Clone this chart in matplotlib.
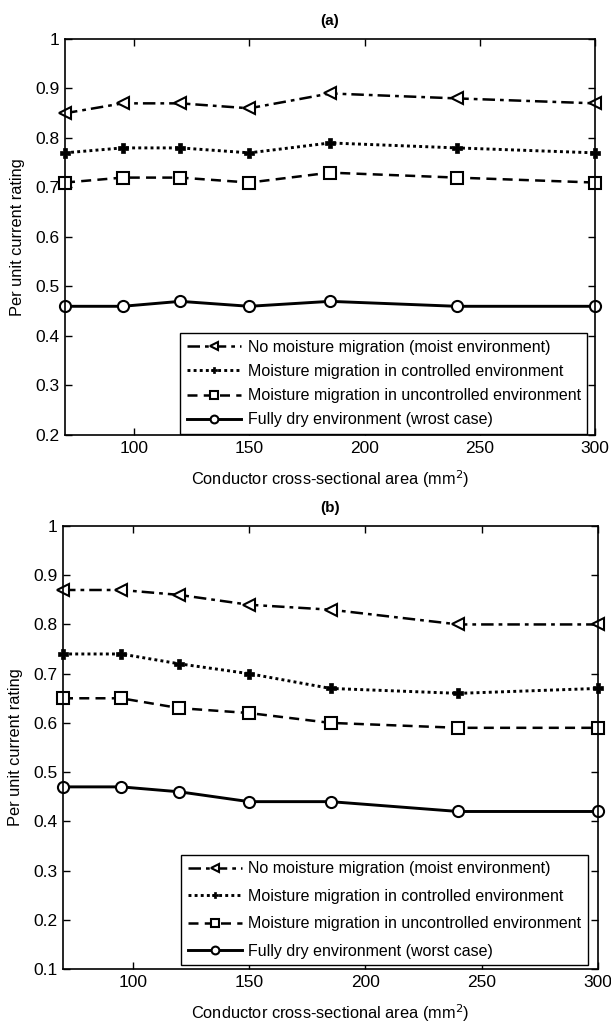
"""
Per unit current rating vs conductor cross-sectional area, two panels (a) and (b).
"""

import matplotlib
matplotlib.use("Agg")
import matplotlib.pyplot as plt

plt.rcParams['font.family'] = ['Liberation Sans', 'DejaVu Sans']

# Conductor sizes (mm^2)
areas = [70, 95, 120, 150, 185, 240, 300]

labels = [
    "No moisture migration (moist environment)",
    "Moisture migration in controlled environment",
    "Moisture migration in uncontrolled environment",
]

# Panel (a)
a_moist = [0.85, 0.87, 0.87, 0.86, 0.89, 0.88, 0.87]
a_controlled = [0.77, 0.78, 0.78, 0.77, 0.79, 0.78, 0.77]
a_uncontrolled = [0.71, 0.72, 0.72, 0.71, 0.73, 0.72, 0.71]
a_dry = [0.46, 0.46, 0.47, 0.46, 0.47, 0.46, 0.46]
a_dry_label = "Fully dry environment (wrost case)"

# Panel (b)
b_moist = [0.87, 0.87, 0.86, 0.84, 0.83, 0.80, 0.80]
b_controlled = [0.74, 0.74, 0.72, 0.70, 0.67, 0.66, 0.67]
b_uncontrolled = [0.65, 0.65, 0.63, 0.62, 0.60, 0.59, 0.59]
b_dry = [0.47, 0.47, 0.46, 0.44, 0.44, 0.42, 0.42]
b_dry_label = "Fully dry environment (worst case)"

a_yticks = [0.2, 0.3, 0.4, 0.5, 0.6, 0.7, 0.8, 0.9, 1]
b_yticks = [0.1, 0.2, 0.3, 0.4, 0.5, 0.6, 0.7, 0.8, 0.9, 1]
xticks = [100, 150, 200, 250, 300]
ytick_labels_a = ["0.2", "0.3", "0.4", "0.5", "0.6", "0.7", "0.8", "0.9", "1"]
ytick_labels_b = ["0.1", "0.2", "0.3", "0.4", "0.5", "0.6", "0.7", "0.8", "0.9", "1"]


def draw_panel(ax, series, dry_label, yticks, ytick_labels, title,
               legend_anchor, label_spacing):
    moist, controlled, uncontrolled, dry = series
    lw = 1.8
    ax.plot(areas, moist, color='black', linestyle=(0, (5, 2, 1.5, 2)), linewidth=lw,
            marker='<', markersize=9, markerfacecolor='white', markeredgewidth=1.5,
            label=labels[0], clip_on=False)
    ax.plot(areas, controlled, color='black', linestyle=(0, (1, 1.1)), linewidth=lw + 0.3,
            marker='P', markersize=6.5, markerfacecolor='black', markeredgewidth=0.5,
            label=labels[1], clip_on=False)
    ax.plot(areas, uncontrolled, color='black', linestyle=(0, (4, 2.5)), linewidth=lw,
            marker='s', markersize=8, markerfacecolor='white', markeredgewidth=1.5,
            label=labels[2], clip_on=False)
    ax.plot(areas, dry, color='black', linestyle='-', linewidth=lw + 0.3,
            marker='o', markersize=8, markerfacecolor='white', markeredgewidth=1.5,
            label=dry_label, clip_on=False)

    ax.set_xlim(70, 300)
    ax.set_ylim(yticks[0], yticks[-1])
    ax.set_xticks(xticks)
    ax.set_yticks(yticks)
    ax.set_yticklabels(ytick_labels)
    ax.tick_params(direction='in', top=True, right=True, length=5, width=1,
                   labelsize=12.5, pad=4)
    for spine in ax.spines.values():
        spine.set_linewidth(1.2)

    ax.set_xlabel('Conductor cross-sectional area (mm$^2$)', fontsize=11.8, labelpad=9)
    ax.set_ylabel('Per unit current rating', fontsize=11.8, labelpad=7)
    ax.set_title(title, fontsize=11, fontweight='bold', pad=10)

    leg = ax.legend(loc='lower right', bbox_to_anchor=legend_anchor, fontsize=11.5,
                    handlelength=3.4, handletextpad=0.4, labelspacing=label_spacing,
                    borderpad=0.4, borderaxespad=0, fancybox=False, framealpha=1,
                    edgecolor='black', markerscale=0.7)
    leg.get_frame().set_linewidth(1.0)
    leg.set_zorder(5)


def main():
    fig = plt.figure(figsize=(6.11, 10.25), dpi=100)

    ax_a = fig.add_axes([65 / 611, 1 - 435 / 1025, 530 / 611, 396 / 1025])
    ax_b = fig.add_axes([63 / 611, 1 - 969 / 1025, 535 / 611, 443 / 1025])

    draw_panel(ax_a, (a_moist, a_controlled, a_uncontrolled, a_dry), a_dry_label,
               a_yticks, ytick_labels_a, '(a)', (0.985, 0.003), 0.58)
    draw_panel(ax_b, (b_moist, b_controlled, b_uncontrolled, b_dry), b_dry_label,
               b_yticks, ytick_labels_b, '(b)', (0.981, 0.009), 0.78)

    fig.savefig('out.png', dpi=100)
    plt.close(fig)


if __name__ == "__main__":
    main()
